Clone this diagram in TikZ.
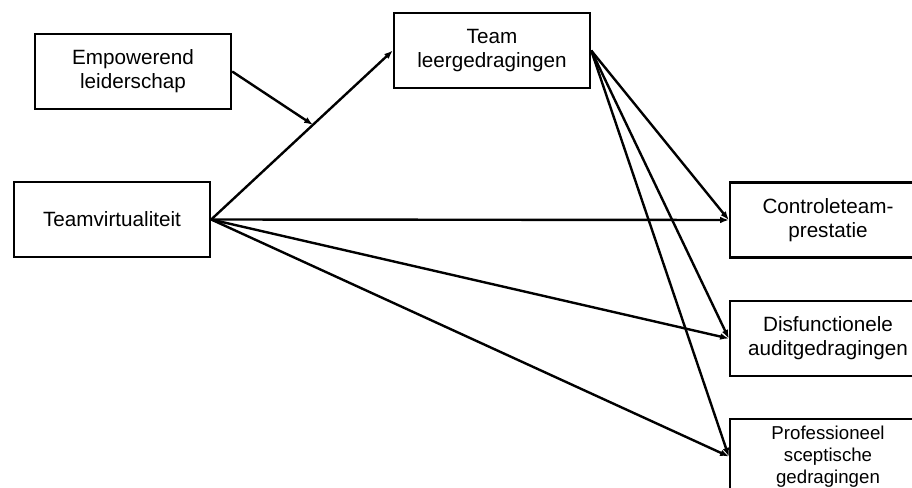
\documentclass[tikz,border=0pt]{standalone}
\usepackage{fontspec}
\setmainfont{Liberation Sans}
\usetikzlibrary{arrows.meta,positioning}

\tikzset{
  box/.style={draw,rectangle,line width=1.8pt,minimum width=147pt,minimum height=56pt,
              align=center,font=\fontsize{15.5}{18}\selectfont},
  smallbox/.style={box,font=\fontsize{14}{16.5}\selectfont},
  link/.style={->,line width=1.8pt},
}

\begin{document}
\begin{tikzpicture}[x=0.75pt,y=-0.75pt,>={Latex[length=6.5pt,width=5pt]}]
    \useasboundingbox (0,0) rectangle (912,488);
    \node[box] (emp)  at (133,71.5)  {Empowerend\\leiderschap};
    \node[box] (tv)   at (112,219.5) {Teamvirtualiteit};
    \node[box] (tl)   at (492,50.5)  {Team\\leergedragingen};
    \node[box] (ctrl) at (828,220)   {Controleteam-\\prestatie};
    \node[box] (dys)  at (828,338.5) {Disfunctionele\\auditgedragingen};
    \node[smallbox] (prof) at (828,456.5) {Professioneel\\sceptische\\gedragingen};
    % moderated path
    \draw[link] (tv.east) -- coordinate[pos=0.56] (mod) (tl.west);
    \draw[link] (emp.east) -- (mod);
    \path[link]
    % direct edges
    (tv.east) edge (ctrl.west)
    (tv.east) edge (dys.west)
    (tv.east) edge (prof.west)
    % mediator edges
    (tl.east) edge (ctrl.west)
    (tl.east) edge (dys.west)
    (tl.east) edge (prof.west);
\end{tikzpicture}
\end{document}
